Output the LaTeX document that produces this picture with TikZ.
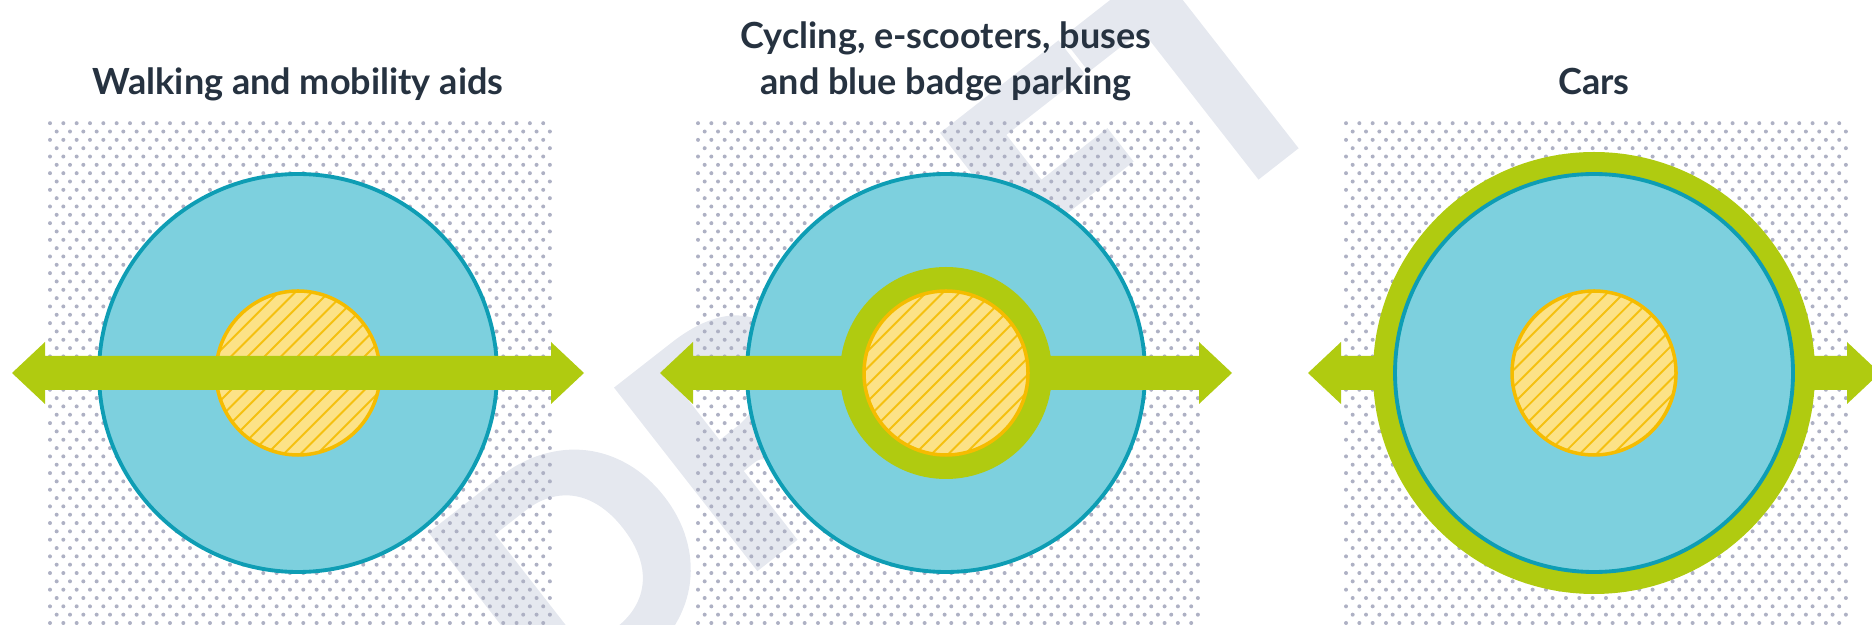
\documentclass[tikz,border=0pt]{standalone}
\usepackage{fontspec}
\setmainfont{Lato}
\newfontfamily\draftfont{Lato}[BoldFeatures={FakeBold=3}]

\definecolor{zoneblue}{HTML}{7DD0DE}
\definecolor{zoneedge}{HTML}{0E9DB4}
\definecolor{routegreen}{HTML}{B0CB10}
\definecolor{corefill}{HTML}{FCE287}
\definecolor{coreedge}{HTML}{F5BC00}
\definecolor{corehatch}{HTML}{F5C010}
\definecolor{dotgrey}{HTML}{AEB1C4}
\definecolor{titleink}{HTML}{263240}
\definecolor{draftgrey}{HTML}{E5E8EF}

\tikzset{
  zone/.style={fill=zoneblue, draw=zoneedge, line width=2.2pt},
  ring/.style={fill=routegreen},
  route/.style={fill=routegreen},
  coreline/.style={draw=coreedge, line width=2pt},
  hatchline/.style={draw=corehatch, line width=1.1pt},
  title/.style={font=\bfseries\fontsize{20.5}{24}\selectfont, text=titleink,
    anchor=base, inner sep=0pt},
  watermark/.style={font=\draftfont\bfseries\fontsize{176}{176}\selectfont,
    text=draftgrey, inner sep=0pt, rotate=38}
}

% hatched town centre disc at (#1,#2)
\newcommand{\coredisk}[2]{%
  \begin{scope}
    \clip (#1,#2) circle (82);
    \fill[corefill] (#1,#2) circle (82);
    \foreach \k in {-8,...,8}
      \draw[hatchline] ({#1+\k*16.7-120},{#2-120}) -- ({#1+\k*16.7+120},{#2+120});
  \end{scope}
  \draw[coreline] (#1,#2) circle (82);
}

% two-headed route arrow centred on x=#1
\newcommand{\routearrow}[1]{%
  \fill[route] ({#1-286},252) -- ++(33,31) -- ++(0,-14) -- ({#1+253},269)
    -- ++(0,14) -- ({#1+286},252) -- ++(-33,-31) -- ++(0,14)
    -- ({#1-253},235) -- ++(0,-14) -- cycle;
}

\begin{document}
\begin{tikzpicture}[x=0.02cm, y=0.02cm]
  \useasboundingbox (0,0) rectangle (1872,625);

  % DRAFT watermark
  \node[watermark] (draft) at (882,299) {DRAFT};

  % dotted ground under each panel, one row at a time
  \foreach \cx in {298,946,1594}
    \foreach \j in {0,...,60} {
      \pgfmathsetmacro{\rowx}{\cx-248+mod(\j,2)*6.67}
      \pgfmathsetmacro{\rowy}{2+\j*8.33}
      \fill[dotgrey] \foreach \i in {0,...,37} {
        ({\rowx+\i*13.33},\rowy) circle (2)
      };
    }

  % Walking and mobility aids
  \node[title] (walktitle) at (298,530) {Walking and mobility aids};
  \filldraw[zone] (298,252) circle (199);
  \coredisk{298}{252}
  \routearrow{298}

  % Cycling, e-scooters, buses and blue badge parking
  \node[title] (cycletitle) at (946,576) {Cycling, e-scooters, buses};
  \node[title] (badgetitle) at (946,530) {and blue badge parking};
  \filldraw[zone] (946,252) circle (199);
  \routearrow{946}
  \fill[ring] (946,252) circle (106);
  \coredisk{946}{252}

  % Cars
  \node[title] (cartitle) at (1594,530) {Cars};
  \routearrow{1594}
  \fill[ring] (1594,252) circle (221);
  \filldraw[zone] (1594,252) circle (199);
  \coredisk{1594}{252}

\end{tikzpicture}
\end{document}
